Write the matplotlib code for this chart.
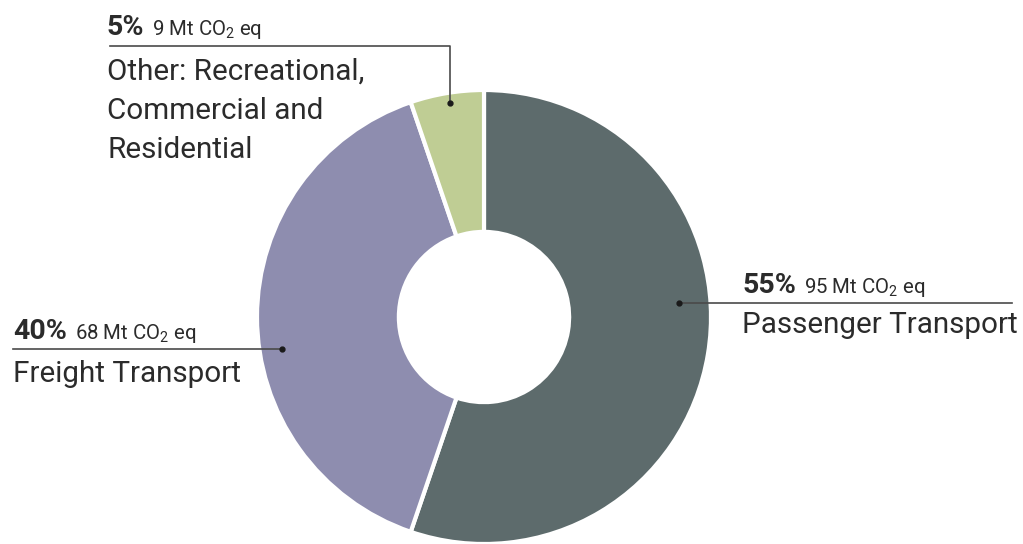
import matplotlib

matplotlib.use("Agg")
import matplotlib.pyplot as plt

plt.rcParams["font.family"] = ["Roboto", "DejaVu Sans"]
plt.rcParams["mathtext.fontset"] = "custom"
plt.rcParams["mathtext.rm"] = "Roboto"

# data
categories = ["Passenger Transport", "Freight Transport",
              "Other: Recreational,\nCommercial and\nResidential"]
emissions_mt = [95, 68, 9]
pct_labels = ["55%", "40%", "5%"]
colors = ["#5d6b6c", "#8e8daf", "#bfcd94"]

W, H = 1023, 544
TXT = "#2b2b2b"
LINE = "#4a4a4a"


def Y(py):
    # pixel row (from top) -> data y
    return H - py


fig = plt.figure(figsize=(W / 100, H / 100), dpi=100)
ax = fig.add_axes([0, 0, 1, 1])

radius = 227
ax.pie(emissions_mt, colors=colors, startangle=90, counterclock=False,
       radius=radius, center=(484, Y(317)),
       wedgeprops=dict(width=radius * 0.625, edgecolor="white", linewidth=3))
ax.set_xlim(0, W)
ax.set_ylim(0, H)
ax.set_aspect("auto")
ax.axis("off")

renderer = fig.canvas.get_renderer()


def header(x, py, pct, mt):
    t = ax.text(x, Y(py), pct, fontsize=20.5, fontweight="bold", color=TXT,
                ha="left", va="baseline")
    w = t.get_window_extent(renderer).width
    ax.text(x + w + 8, Y(py), f"{mt} Mt CO$_\\mathregular{{2}}$ eq",
            fontsize=14.7, color=TXT, ha="left", va="baseline")


# passenger
header(742, 293, pct_labels[0], emissions_mt[0])
ax.text(742, Y(333), categories[0], fontsize=21.3, color=TXT,
        ha="left", va="baseline")
ax.plot([679, 1012], [Y(303), Y(303)], color=LINE, lw=1.2, zorder=5)
ax.plot(679, Y(303), "o", color="#1a1a1a", ms=3.5, zorder=6)

# freight
header(13, 339, pct_labels[1], emissions_mt[1])
ax.text(13, Y(382), categories[1], fontsize=21.3, color=TXT,
        ha="left", va="baseline")
ax.plot([13, 282], [Y(349), Y(349)], color=LINE, lw=1.2, zorder=5)
ax.plot(282, Y(349), "o", color="#1a1a1a", ms=3.5, zorder=6)

# other
header(107, 35, pct_labels[2], emissions_mt[2])
for i, line in enumerate(categories[2].split("\n")):
    ax.text(107, Y(80 + i * 39), line, fontsize=21.3, color=TXT,
            ha="left", va="baseline")
ax.plot([110, 450, 450], [Y(46), Y(46), Y(103)], color=LINE, lw=1.2, zorder=5)
ax.plot(450, Y(103), "o", color="#1a1a1a", ms=3.5, zorder=6)

fig.savefig("out.png", dpi=100)
